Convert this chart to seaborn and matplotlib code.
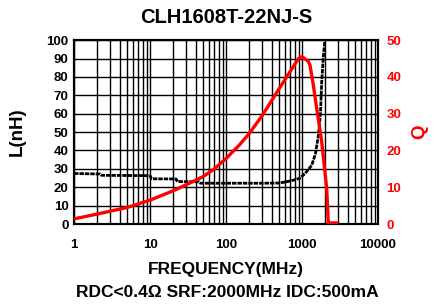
import numpy as np
import pandas as pd
import matplotlib
matplotlib.use('Agg')
import matplotlib.pyplot as plt
from matplotlib.ticker import LogLocator, FixedLocator, NullFormatter
import seaborn as sns

# Inductance curve (black)
freq_L = [1, 2.2, 2.3, 10, 10.5, 22, 23, 44, 46, 100, 300, 500, 630, 800,
          940, 1100, 1343, 1500, 1640, 1750, 1815, 1900, 2000, 2080]
L_nH = [27.5, 27.2, 26.5, 26.3, 24.6, 24.5, 23.1, 23.0, 22.2, 22.2, 22.2,
        22.3, 23.0, 24.0, 25.0, 27.5, 32.0, 38.0, 48.0, 60.0, 77.0, 90.0,
        100.0, 110.0]

# Q curve (red)
freq_Q = [1, 2, 3, 5, 10, 20, 30, 50, 70, 100, 150, 200, 300, 500, 700, 900,
          1000, 1200, 1274, 1409, 1560, 1816, 2113, 2218, 2863]
Q_val = [1.4, 2.7, 3.5, 4.5, 6.5, 9.0, 10.7, 12.9, 15.0, 17.8, 21.5, 24.5,
         29.5, 36.8, 41.5, 45.0, 45.5, 44.3, 43.2, 37.8, 31.5, 22.4, 9.7,
         0.3, 0.3]

x_ticks = [1, 10, 100, 1000, 10000]
x_labels = ['1', '10', '100', '1000', '10000']
L_ticks = [0, 10, 20, 30, 40, 50, 60, 70, 80, 90, 100]
Q_ticks = [0, 10, 20, 30, 40, 50]

sns.set_style('white')
plt.rcParams['font.family'] = ['Liberation Sans', 'DejaVu Sans']
plt.rcParams['font.weight'] = 'bold'
plt.rcParams['text.color'] = 'black'
plt.rcParams['axes.labelcolor'] = 'black'

df_L = pd.DataFrame({'freq': freq_L, 'L': L_nH})
df_Q = pd.DataFrame({'freq': freq_Q, 'Q': Q_val})

fig = plt.figure(figsize=(4.38, 3.04), dpi=100)
ax = fig.add_axes([0.169, 0.263, 0.694, 0.605])
ax2 = ax.twinx()

sns.lineplot(data=df_L, x='freq', y='L', ax=ax, color='black', linewidth=2.0,
             sort=False, estimator=None, linestyle=(0, (1.6, 0.35)), zorder=3)
sns.lineplot(data=df_Q, x='freq', y='Q', ax=ax2, color='#ff0000', linewidth=2.4,
             sort=False, estimator=None, zorder=4)

ax.set_xscale('log')
ax.set_xlim(1, 10000)
ax.set_ylim(0, 100)
ax2.set_ylim(0, 50)

ax.xaxis.set_major_locator(FixedLocator(x_ticks))
ax.set_xticklabels(x_labels)
ax.xaxis.set_minor_locator(LogLocator(base=10, subs=np.arange(2, 10)))
ax.xaxis.set_minor_formatter(NullFormatter())
ax.set_yticks(L_ticks)
ax2.set_yticks(Q_ticks)

ax.grid(True, which='both', axis='x', color='black', linewidth=1.0)
ax.grid(True, which='major', axis='y', color='black', linewidth=1.0)
ax.set_axisbelow(True)

for a in (ax, ax2):
    for s in a.spines.values():
        s.set_color('black')
        s.set_linewidth(1.5)
    a.tick_params(which='both', length=0)

ax.tick_params(axis='x', labelsize=9.5, labelcolor='black', pad=11)
ax.tick_params(axis='y', labelsize=9.5, labelcolor='black', pad=4)
ax2.tick_params(axis='y', labelsize=9.5, labelcolor='#ff0000', pad=6)
for lab in ax.get_xticklabels() + ax.get_yticklabels() + ax2.get_yticklabels():
    lab.set_fontweight('bold')

ax.set_xlabel('FREQUENCY(MHz)', fontsize=12.5, fontweight='bold', labelpad=8)
ax.set_ylabel('L(nH)', fontsize=13.5, fontweight='bold', labelpad=15)
ax2.set_ylabel('Q', fontsize=13.5, fontweight='bold', color='#ff0000', labelpad=7)
ax.set_title('CLH1608T-22NJ-S', fontsize=14.5, fontweight='bold', pad=12)

fig.text(0.518, 0.022, 'RDC<0.4Ω SRF:2000MHz IDC:500mA', ha='center',
         fontsize=12.5, fontweight='bold')

fig.savefig('out.png', dpi=100)
